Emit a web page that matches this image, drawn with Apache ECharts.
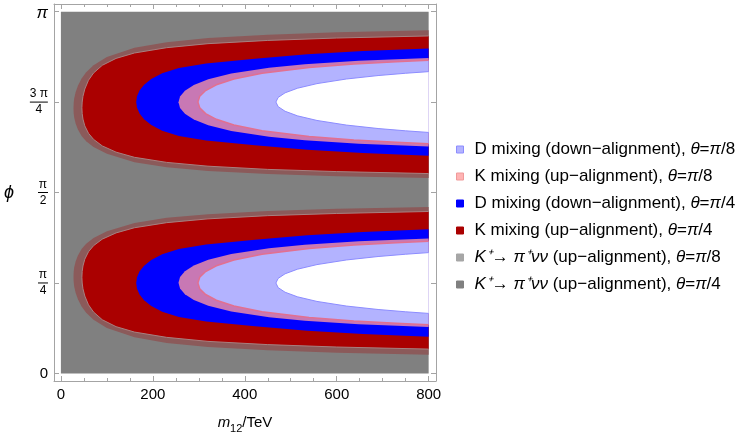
<!DOCTYPE html>
<html><head><meta charset="utf-8">
<script src="https://cdn.jsdelivr.net/npm/echarts@6/dist/echarts.min.js"></script>
<style>html,body{margin:0;padding:0;background:#fff}#c{width:747px;height:439px}</style>
</head><body><div id="c"></div>
<script>
const PI = Math.PI;
const FONT = '"Liberation Sans", Arial, sans-serif';

// ---- axes / ticks ----
const xTicks = [0, 200, 400, 600, 800];
const xMinorTicks = [50, 100, 150, 250, 300, 350, 450, 500, 550, 650, 700, 750];
const yTicks = [0, PI / 4, PI / 2, 3 * PI / 4, PI];
const yTickLabels = ['0', 'π/4', 'π/2', '3 π/4', 'π'];

// ---- legend entries ----
const legendNames = [
  'D mixing (down−alignment), θ=π/8',
  'K mixing (up−alignment), θ=π/8',
  'D mixing (down−alignment), θ=π/4',
  'K mixing (up−alignment), θ=π/4',
  'K⁺→ π⁺νν (up−alignment), θ=π/8',
  'K⁺→ π⁺νν (up−alignment), θ=π/4'
];

// ---- excluded-region boundaries (lower lobe); upper lobe is its mirror φ → π − φ ----
const grayM12 = [0, 800];
const grayPhi = [0, PI];

const brownM12   = [27.4, 27.8, 29, 32, 37, 45, 55, 71, 100, 160, 230, 320, 450, 600, 800];
const brownPhiHi = [0.838, 0.883, 0.922, 0.971, 1.024, 1.081, 1.126, 1.175, 1.234, 1.307, 1.351, 1.383, 1.410, 1.429, 1.445];
const brownPhiLo = [0.838, 0.793, 0.752, 0.701, 0.644, 0.581, 0.526, 0.465, 0.394, 0.313, 0.265, 0.229, 0.200, 0.179, 0.162];

const redM12   = [45.7, 46.3, 48, 52, 60, 71, 90, 120, 160, 230, 320, 450, 600, 800];
const redPhiHi = [0.835, 0.885, 0.933, 0.992, 1.056, 1.109, 1.166, 1.220, 1.265, 1.309, 1.342, 1.370, 1.389, 1.406];
const redPhiLo = [0.835, 0.785, 0.735, 0.672, 0.596, 0.533, 0.466, 0.406, 0.359, 0.313, 0.278, 0.250, 0.229, 0.211];

const blueM12   = [163.8, 165.6, 171.1, 181, 196.6, 220.3, 256.7, 315.9, 421.8, 536, 657, 800];
const bluePhiHi = [0.785, 0.835, 0.885, 0.935, 0.985, 1.035, 1.080, 1.120, 1.160, 1.200, 1.228, 1.251];
const bluePhiLo = [0.785, 0.735, 0.685, 0.635, 0.585, 0.535, 0.490, 0.450, 0.410, 0.370, 0.342, 0.319];

const mauveM12   = [255.8, 259.2, 269.8, 289.2, 320.6, 370.6, 452.9, 530.5, 647.9, 800];
const mauvePhiHi = [0.787, 0.837, 0.887, 0.937, 0.987, 1.037, 1.087, 1.117, 1.147, 1.172];
const mauvePhiLo = [0.787, 0.737, 0.687, 0.637, 0.587, 0.537, 0.487, 0.457, 0.427, 0.402];

const lbM12   = [298, 302, 314.8, 338.2, 376.3, 437.5, 539.9, 637.4, 729.6, 800];
const lbPhiHi = [0.785, 0.835, 0.885, 0.935, 0.985, 1.035, 1.085, 1.115, 1.135, 1.147];
const lbPhiLo = [0.785, 0.735, 0.685, 0.635, 0.585, 0.535, 0.485, 0.455, 0.435, 0.423];

const whiteM12   = [467.7, 472.6, 487.7, 514.7, 557.1, 621, 690, 750, 800];
const whitePhiHi = [0.785, 0.825, 0.865, 0.905, 0.945, 0.985, 1.015, 1.035, 1.049];
const whitePhiLo = [0.785, 0.745, 0.705, 0.665, 0.625, 0.585, 0.555, 0.535, 0.521];

// ---- build closed lobe outlines in data space ----
function lobe(m12, hi, lo) {
  const pts = [];
  for (let i = m12.length - 1; i >= 0; i--) pts.push([m12[i], hi[i]]);
  for (let i = 1; i < m12.length; i++) pts.push([m12[i], lo[i]]);
  return pts;
}
function mirror(pts) { return pts.map(p => [p[0], PI - p[1]]); }
function bothLobes(m12, hi, lo) { const l = lobe(m12, hi, lo); return [l, mirror(l)]; }

const grayRect = [[grayM12[0], grayPhi[0]], [grayM12[1], grayPhi[0]], [grayM12[1], grayPhi[1]], [grayM12[0], grayPhi[1]]];

function regionSeries(name, polys, fill, z, edge) {
  return {
    type: 'custom', name: name, z: z,
    coordinateSystem: 'cartesian2d', xAxisIndex: 0, yAxisIndex: 0,
    data: [[0, 0]], silent: true, animation: false, clip: true,
    itemStyle: { color: fill },
    renderItem: function (params, api) {
      const children = [];
      polys.forEach(p => {
        const px = p.map(q => api.coord(q));
        children.push({ type: 'polygon', shape: { points: px }, style: { fill: fill, stroke: null } });
        if (edge) {
          children.push({ type: 'polyline', shape: { points: px },
            style: { fill: null, stroke: edge.color, lineWidth: edge.width } });
        }
      });
      return { type: 'group', children: children };
    }
  };
}

const series = [
  regionSeries(legendNames[5], [grayRect], '#808080', 1),
  regionSeries(legendNames[4], bothLobes(brownM12, brownPhiHi, brownPhiLo), '#8b5a5a', 2),
  regionSeries(legendNames[3], bothLobes(redM12, redPhiHi, redPhiLo), '#aa0000', 3, { color: '#a88080', width: 1 }),
  regionSeries(legendNames[2], bothLobes(blueM12, bluePhiHi, bluePhiLo), '#0000ff', 4),
  regionSeries(legendNames[1], bothLobes(mauveM12, mauvePhiHi, mauvePhiLo), '#c878b4', 5),
  regionSeries(legendNames[0], bothLobes(lbM12, lbPhiHi, lbPhiLo), '#b3b3ff', 6, { color: '#e27090', width: 1.5 }),
  regionSeries('allowed', bothLobes(whiteM12, whitePhiHi, whitePhiLo), '#ffffff', 7, { color: '#8c8cff', width: 1 })
];

const legendStyles = [
  { fill: '#b3b3ff', border: '#8c8cff' },
  { fill: '#ffb3b3', border: '#f09a9a' },
  { fill: '#0000ff', border: '#0000ff' },
  { fill: '#aa0000', border: '#aa0000' },
  { fill: '#a6a6a6', border: '#a6a6a6' },
  { fill: '#808080', border: '#808080' }
];

function richLegend(name) {
  // italic symbols: θ, π, ν, and K when it is the kaon K⁺
  const chars = Array.from(name);
  let out = '', buf = '', cur = 'n';
  chars.forEach((ch, i) => {
    let cls = 'n';
    if ('θπν'.includes(ch)) cls = 'i';
    else if (ch === 'K' && chars[i + 1] === '⁺') cls = 'i';
    else if (ch === '⁺') cls = 'i';
    if (cls !== cur) { if (buf) out += '{' + cur + '|' + buf + '}'; buf = ''; cur = cls; }
    buf += ch;
  });
  if (buf) out += '{' + cur + '|' + buf + '}';
  return out;
}

const frameColor = '#a4a4a4';
function xAxisDef(pos, ticks, len, label, line) {
  return {
    type: 'value', position: pos, min: -15, max: 816, z: 10,
    splitLine: { show: false },
    axisLine: { show: line, onZero: false, lineStyle: { color: frameColor, width: 1 } },
    axisTick: { show: true, inside: true, length: len, customValues: ticks, lineStyle: { color: frameColor } },
    axisLabel: label ? { show: true, customValues: ticks, color: '#000', fontSize: 15, fontFamily: FONT, margin: 6 } : { show: false }
  };
}
function yAxisDef(pos, ticks, len, label, line) {
  return {
    type: 'value', position: pos, min: -0.066, max: 3.208, z: 10,
    splitLine: { show: false },
    axisLine: { show: line, onZero: false, lineStyle: { color: frameColor, width: 1 } },
    axisTick: { show: true, inside: true, length: len, customValues: ticks, lineStyle: { color: frameColor } },
    axisLabel: label ? {
      show: true, customValues: ticks, margin: 6, color: '#000', fontFamily: FONT, align: 'right',
      formatter: function (v) {
        let idx = 0, best = 1e9;
        yTicks.forEach((t, i) => { if (Math.abs(t - v) < best) { best = Math.abs(t - v); idx = i; } });
        const lab = yTickLabels[idx];
        if (lab.indexOf('/') < 0) return lab === 'π' ? '{pi|π}' : '{z|' + lab + '}';
        const parts = lab.split('/');
        return '{num|' + parts[0] + '}\n{' + (parts[0].length > 1 ? 'barW' : 'bar') + '|}\n{den|' + parts[1] + '}';
      },
      rich: {
        z: { fontSize: 15, fontFamily: FONT, color: '#000' },
        pi: { fontSize: 17, fontStyle: 'italic', fontFamily: FONT, color: '#000', padding: [3, 0, 0, 0] },
        num: { fontSize: 12, lineHeight: 13, align: 'center', fontFamily: FONT, color: '#000' },
        den: { fontSize: 12, lineHeight: 13, align: 'center', fontFamily: FONT, color: '#000' },
        bar: { width: 10, height: 1, lineHeight: 3, backgroundColor: '#000', align: 'center' },
        barW: { width: 18, height: 1, lineHeight: 3, backgroundColor: '#000', align: 'center' }
      }
    } : { show: false }
  };
}

const xAxes = [
  xAxisDef('bottom', xTicks, 5, true, true),
  xAxisDef('bottom', xMinorTicks, 3, false, false),
  xAxisDef('top', xTicks, 5, false, true),
  xAxisDef('top', xMinorTicks, 3, false, false)
];
xAxes[0].name = '{i|m}{s|12}{n|/TeV}';
xAxes[0].nameLocation = 'middle';
xAxes[0].nameGap = 31;
xAxes[0].nameTextStyle = {
  rich: {
    i: { fontSize: 15, fontStyle: 'italic', fontFamily: FONT, color: '#000', lineHeight: 22, verticalAlign: 'middle' },
    s: { fontSize: 11, fontFamily: FONT, color: '#000', lineHeight: 14, verticalAlign: 'bottom' },
    n: { fontSize: 15, fontFamily: FONT, color: '#000', lineHeight: 22, verticalAlign: 'middle' }
  }
};
const yAxes = [
  yAxisDef('left', yTicks, 5, true, true),
  yAxisDef('right', yTicks, 5, false, true)
];

const chart = echarts.init(document.getElementById('c'), null, { renderer: 'canvas' });
chart.setOption({
  animation: false,
  backgroundColor: '#ffffff',
  grid: { left: 54, top: 4, width: 382, height: 383, containLabel: false },
  xAxis: xAxes,
  yAxis: yAxes,
  legend: {
    orient: 'vertical', left: 456, top: 141, padding: 0, itemWidth: 7, itemHeight: 7, itemGap: 10,
    selectedMode: false, icon: 'rect',
    formatter: richLegend,
    textStyle: {
      fontSize: 17, lineHeight: 17, fontFamily: FONT, color: '#000', padding: [0, 0, 0, 6],
      rich: {
        n: { fontSize: 17, lineHeight: 17, fontFamily: FONT, color: '#000' },
        i: { fontSize: 17, lineHeight: 17, fontStyle: 'italic', fontFamily: FONT, color: '#000' }
      }
    },
    data: legendNames.map((n, i) => ({
      name: n, icon: 'rect',
      itemStyle: { color: legendStyles[i].fill, borderColor: legendStyles[i].border, borderWidth: 1 }
    }))
  },
  graphic: [{
    type: 'text', left: 4, top: 184,
    style: { text: 'ϕ', font: 'italic 18px ' + FONT, fill: '#000' }
  }],
  series: series
});
</script></body></html>
